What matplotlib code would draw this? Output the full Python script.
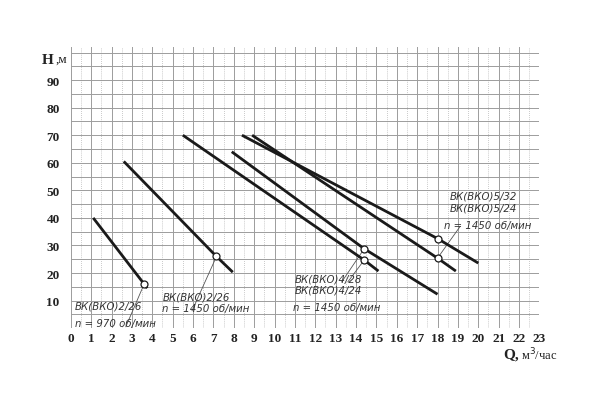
import matplotlib
matplotlib.use("Agg")
import matplotlib.pyplot as plt
import numpy as np

# pump curves Q (m3/h) vs H (m): start, working point, end
q_2_26_970 = [1.1, 3.6, 3.75]
h_2_26_970 = [40, 16, 14.5]
q_2_26 = [2.6, 7.15, 7.95]
h_2_26 = [60.5, 26, 20.3]
q_4_24 = [5.5, 14.4, 15.1]
h_4_24 = [70, 24.7, 20.7]
q_4_28 = [7.9, 14.4, 18.0]
h_4_28 = [64, 28.8, 12.3]
q_5_24 = [8.9, 18.0, 18.9]
h_5_24 = [70, 25.4, 20.7]
q_5_32 = [8.4, 18.0, 20.0]
h_5_32 = [70, 32.5, 23.6]

curves = [(q_2_26_970, h_2_26_970), (q_2_26, h_2_26), (q_4_24, h_4_24),
          (q_4_28, h_4_28), (q_5_24, h_5_24), (q_5_32, h_5_32)]

x_ticks = list(range(0, 24))
y_ticks = [10, 20, 30, 40, 50, 60, 70, 80, 90]

fig = plt.figure(figsize=(6, 4.14), dpi=100)
ax = fig.add_axes([0.118, 0.205, 0.781, 0.679])
ax.set_xlim(0, 23)
ax.set_ylim(0, 102)

# grid like the graph paper
for x in np.arange(0, 23.01, 1):
    ax.axvline(x, color="#9c9c9c", lw=0.7, zorder=1)
for x in np.arange(0.5, 23, 1):
    ax.axvline(x, color="#b8b8b8", lw=0.6, ls=(0, (1, 1.5)), zorder=1)
for y in np.arange(0, 101, 5):
    ax.axhline(y, color="#9c9c9c", lw=0.7, zorder=1)

for q, h in curves:
    ax.plot(q, h, color="#1a1a1a", lw=2, solid_capstyle="butt", zorder=3)
    ax.plot(q[1], h[1], "o", ms=5, mfc="white", mec="#1a1a1a", mew=0.9, zorder=4)

# leader lines from working points to the labels
lc = "#555555"
ax.plot([3.6, 2.7], [16, 0.5], color=lc, lw=0.6, zorder=2)
ax.plot([7.15, 5.95], [26, 6.3], color=lc, lw=0.6, zorder=2)
ax.plot([14.4, 13.3], [28.8, 16.8], color=lc, lw=0.6, zorder=2)
ax.plot([14.4, 13.6], [24.7, 16.8], color=lc, lw=0.6, zorder=2)
ax.plot([18.0, 19.1], [25.4, 36.8], color=lc, lw=0.6, zorder=2)

hand = dict(fontsize=7.3, fontstyle="italic", family="DejaVu Sans",
            color="#333333", zorder=5, va="center")
ax.text(0.2, 8.2, "ВК(ВКО)2/26", **hand)
ax.text(0.2, 2.0, "n = 970 об/мин", **hand)
ax.text(4.5, 11.6, "ВК(ВКО)2/26", **hand)
ax.text(4.5, 7.3, "n = 1450 об/мин", **hand)
ax.text(11.0, 18.0, "ВК(ВКО)4/28", **hand)
ax.text(11.0, 14.0, "ВК(ВКО)4/24", **hand)
ax.text(10.9, 7.8, "n = 1450 об/мин", **hand)
ax.text(18.6, 48.0, "ВК(ВКО)5/32", **hand)
ax.text(18.6, 43.6, "ВК(ВКО)5/24", **hand)
ax.text(18.3, 37.5, "n = 1450 об/мин", **hand)

for s in ax.spines.values():
    s.set_visible(False)
ax.set_xticks(x_ticks)
ax.set_yticks(y_ticks)
ax.tick_params(length=0)
ax.tick_params(axis="x", pad=3)
ax.tick_params(axis="y", pad=8)
for lab in ax.get_xticklabels() + ax.get_yticklabels():
    lab.set_family("Liberation Serif")
    lab.set_fontweight("bold")
    lab.set_fontsize(9.5)
    lab.set_color("#222222")

fig.text(0.070, 0.855, "H", family="Liberation Serif", fontweight="bold",
         fontsize=11, color="#222222", va="center")
fig.text(0.092, 0.855, ",м", family="Liberation Serif", fontsize=9.5,
         color="#222222", va="center")
fig.text(0.838, 0.143, "Q,", family="Liberation Serif", fontweight="bold",
         fontsize=11, color="#222222", va="center")
fig.text(0.868, 0.143, "м$^3$/час", family="Liberation Serif", fontsize=9,
         color="#222222", va="center")

fig.savefig("out.png", dpi=100)
